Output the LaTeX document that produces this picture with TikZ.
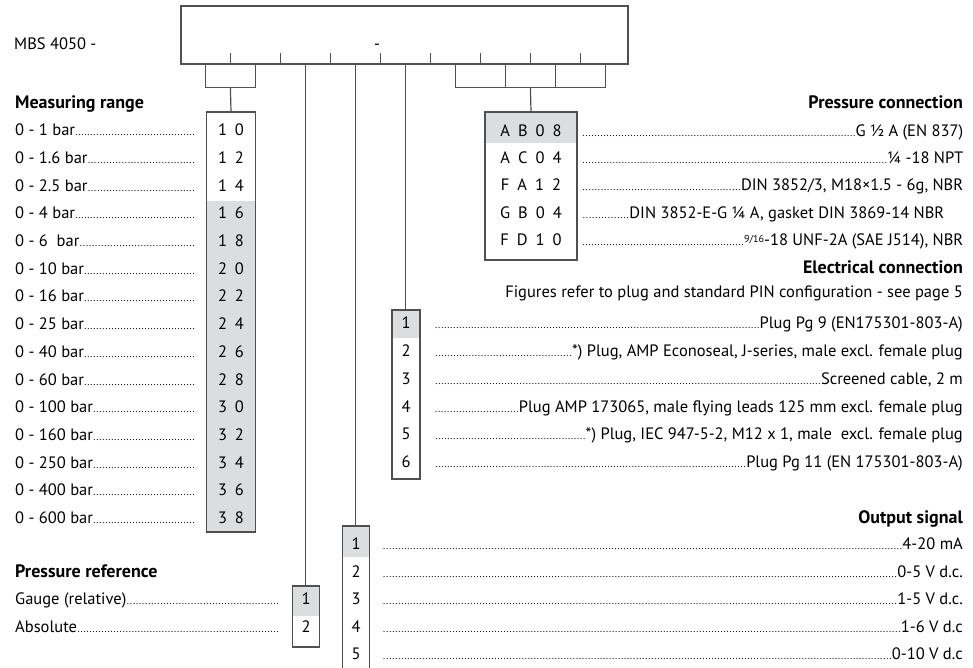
\documentclass[tikz,border=0pt]{standalone}
\usepackage{fontspec}
\setmainfont{PT Sans}
\usepackage{xcolor}
\usetikzlibrary{calc}
\tikzset{>=latex}
\definecolor{linegray}{RGB}{80,80,80}
\definecolor{cellgray}{RGB}{220,221,223}
\newcommand\leaderdots{\xleaders\hbox to 3pt{\hss\fontsize{10}{10}\selectfont.\hss}\hfill}
\newcommand\dotsleft[2]{\hbox to #1pt{#2\leaderdots}}
\newcommand\dotsright[2]{\hbox to #1pt{\leaderdots#2}}

\begin{document}
\begin{tikzpicture}[x=1pt,y=-1pt,font=\fontsize{16.5}{18}\selectfont,
    box/.style={draw=linegray,line width=1.2pt,inner sep=0pt},
    wire/.style={draw=linegray,line width=1.2pt},
    item/.style={inner sep=0pt,text height=11.5pt,text depth=0pt},
    head/.style={item,font=\fontsize{18}{20}\selectfont\bfseries},
    codes/.style={item,execute at begin node={\spaceskip=8pt\relax}},
    graytop/.style={path picture={\fill[cellgray] (path picture bounding box.north west) rectangle ([yshift=-#1pt]path picture bounding box.north east);}},
    graylow/.style={path picture={\fill[cellgray] (path picture bounding box.south west) rectangle ([yshift=#1pt]path picture bounding box.south east);}}]
    \useasboundingbox (0,0) rectangle (973,668);
    \clip (0,0) rectangle (973,668);
    % Type code box
    \node[item,anchor=west] (mbs) at (14,44) {MBS 4050 -};
    \node[box,minimum width=447pt,minimum height=58pt] (code) at (404.5,35) {};
    \node[item] (dash) at (377,44) {-};
    \foreach \i [evaluate=\i as \dx using 50*\i] in {1,...,8} {
        \draw[wire] ([xshift=\dx pt]code.south west) -- ++(0,-12);
    }
    \foreach \i [evaluate=\i as \dx using 50*\i-25] in {1,...,9} {
        \coordinate (c\i) at ([xshift=\dx pt]code.south west);
    }
    % Measuring range
    \node[head,anchor=west] (mrhead) at (15,103) {Measuring range};
    \node[box,minimum width=49pt,minimum height=420pt,graylow=331] (mr) at (231,322) {};
    \foreach \lbl/\cd [count=\k] in {0 - 1 bar/1 0,0 - 1.6 bar/1 2,0 - 2.5 bar/1 4,0 - 4 bar/1 6,0 - 6~ bar/1 8,
        0 - 10 bar/2 0,0 - 16 bar/2 2,0 - 25 bar/2 4,0 - 40 bar/2 6,0 - 60 bar/2 8,
        0 - 100 bar/3 0,0 - 160 bar/3 2,0 - 250 bar/3 4,0 - 400 bar/3 6,0 - 600 bar/3 8} {
        \node[item,anchor=west] (mrl\k) at (15,{130+27.7*(\k-1)}) {\dotsleft{180}{\lbl}};
        \node[codes] (mrc\k) at (231,{130+27.7*(\k-1)}) {\cd};
    }
    % Pressure reference
    \node[head,anchor=west] (prhead) at (15,572) {Pressure reference};
    \node[box,minimum width=27pt,minimum height=61pt,graytop=30] (pr) at (306,616.5) {};
    \node[item,anchor=west] (prl1) at (15,599) {\dotsleft{264}{Gauge (relative)}};
    \node[item,anchor=west] (prl2) at (15,627) {\dotsleft{264}{Absolute}};
    \node[item] (prc1) at (306,599) {1};
    \node[item] (prc2) at (306,627) {2};
    % Output signal
    \node[head,anchor=east] (oshead) at (963,518) {Output signal};
    \node[box,minimum width=27pt,minimum height=160pt,graytop=31] (os) at (356,606) {};
    \foreach \txt [count=\k] in {4-20 mA,0-5 V d.c.,1-5 V d.c.,1-6 V d.c,0-10 V d.c} {
        \node[item] (osc\k) at (356,{544+27.5*(\k-1)}) {\k};
        \node[item,anchor=east] (osl\k) at (963,{544+27.5*(\k-1)}) {\dotsright{580}{\txt}};
    }
    % Electrical connection
    \node[head,anchor=east] (echead) at (963,268) {Electrical connection};
    \node[item,anchor=east] (ecnote) at (963,292) {Figures refer to plug and standard PIN configuration - see page 5};
    \node[box,minimum width=28pt,minimum height=169pt,graytop=28] (ec) at (406,394.5) {};
    \foreach \txt [count=\k] in {{Plug Pg 9 (EN175301-803-A)},
        {*) Plug, AMP Econoseal, J-series, male excl. female plug},
        {Screened cable, 2 m},
        {Plug AMP 173065, male flying leads 125 mm excl. female plug},
        {*) Plug, IEC 947-5-2, M12 x 1, male~ excl. female plug},
        {Plug Pg 11 (EN 175301-803-A)}} {
        \node[item] (ecc\k) at (406,{323+27.8*(\k-1)}) {\k};
        \node[item,anchor=east] (ecl\k) at (963,{323+27.8*(\k-1)}) {\dotsright{528}{\txt}};
    }
    % Pressure connection
    \node[head,anchor=east] (pchead) at (963,103) {Pressure connection};
    \node[box,minimum width=92pt,minimum height=148pt,graytop=31] (pc) at (531,186) {};
    \node[codes] (pcc1) at (531,131) {A B 0 8};
    \node[codes] (pcc2) at (531,158) {A C 0 4};
    \node[codes] (pcc3) at (531,185) {F A 1 2};
    \node[codes] (pcc4) at (531,213) {G B 0 4};
    \node[codes] (pcc5) at (531,240) {F D 1 0};
    \node[item,anchor=west] (pcl1) at (582,131) {\dotsright{381}{G ½ A (EN 837)}};
    \node[item,anchor=west] (pcl2) at (582,158) {\dotsright{381}{¼ -18 NPT}};
    \node[item,anchor=west] (pcl3) at (582,185) {\dotsright{381}{DIN 3852/3, M18×1.5 - 6g, NBR}};
    \node[item,anchor=west] (pcl4) at (582,213) {\dotsright{362}{DIN 3852-E-G ¼ A, gasket DIN 3869-14 NBR}};
    \node[item,anchor=west] (pcl5) at (582,240) {\dotsright{381}{\raisebox{.35ex}{\fontsize{10}{10}\selectfont 9/16}-18 UNF-2A (SAE J514), NBR}};
    % Connectors from the type code
    \coordinate (mrj) at ($(c1)!.5!(c2)+(0,23)$);
    \draw[wire] (c1) |- (mrj) -| (c2);
    \draw[wire] (mrj) -- (mr.north);
    \draw[wire] (c3) -- (c3 |- pr.north);
    \draw[wire] (c4) -- (c4 |- os.north);
    \draw[wire] (c5) -- (c5 |- ec.north);
    \coordinate (pcj) at ($(c6)!.5!(c9)+(0,23)$);
    \draw[wire] (c6) |- (pcj) -| (c9);
    \draw[wire] (c7) -- (c7 |- pcj);
    \draw[wire] (c8) -- (c8 |- pcj);
    \draw[wire] (pcj) -- (pc.north);
\end{tikzpicture}
\end{document}
